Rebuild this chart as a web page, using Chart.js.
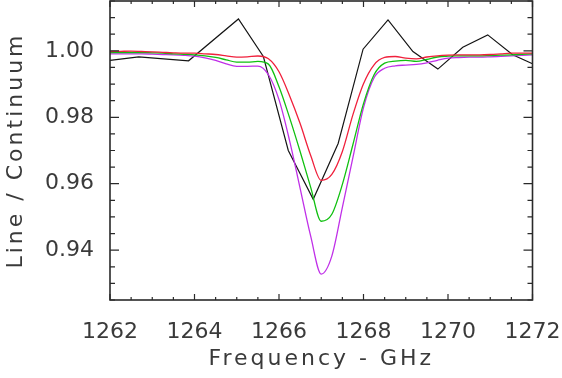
<!DOCTYPE html>
<html>
<head>
<meta charset="utf-8">
<script src="https://cdn.jsdelivr.net/npm/chart.js@4.4.0/dist/chart.umd.min.js"></script>
<style>
  html, body { margin: 0; padding: 0; background: #fff; }
</style>
</head>
<body>
<canvas id="chart" width="562" height="378"></canvas>
<script>
// --- DATA ---
// model grid (GHz)
const modelFreq = [1262.00, 1262.25, 1262.50, 1262.75, 1263.00, 1263.25, 1263.50, 1263.75,
  1264.00, 1264.25, 1264.50, 1264.75, 1265.00, 1265.25, 1265.50, 1265.75,
  1266.00, 1266.25, 1266.50, 1266.75, 1267.00, 1267.25, 1267.50, 1267.75,
  1268.00, 1268.25, 1268.50, 1268.75, 1269.00, 1269.25, 1269.50, 1269.75,
  1270.00, 1270.25, 1270.50, 1270.75, 1271.00, 1271.25, 1271.50, 1271.75, 1272.00];

const redModel = [0.9998, 0.99985, 0.9999, 0.9998, 0.9997, 0.99955, 0.9994, 0.9993,
  0.9993, 0.9991, 0.9989, 0.9985, 0.9981, 0.9982, 0.99844, 0.9976,
  0.9937, 0.9865, 0.9781, 0.9685, 0.9610, 0.9628, 0.9697, 0.9808,
  0.9901, 0.9958, 0.9980, 0.9983, 0.9978, 0.9976, 0.99814, 0.9985,
  0.9987, 0.9988, 0.9988, 0.9988, 0.9989, 0.9991, 0.9993, 0.9993, 0.9993];

const greenModel = [0.9995, 0.9995, 0.9995, 0.9995, 0.9994, 0.9993, 0.9991, 0.99895,
  0.9988, 0.9985, 0.9980, 0.9973, 0.9966, 0.9966, 0.9968, 0.9960,
  0.9892, 0.9799, 0.9697, 0.9589, 0.9487, 0.9508, 0.9598, 0.9718,
  0.9841, 0.9928, 0.9963, 0.9969, 0.9971, 0.9968, 0.9974, 0.99814,
  0.9984, 0.9985, 0.9985, 0.9985, 0.9986, 0.9987, 0.9988, 0.99895, 0.9991];

const magentaModel = [0.9991, 0.9991, 0.9991, 0.9991, 0.9990, 0.9989, 0.9988, 0.99865,
  0.9984, 0.9979, 0.99715, 0.9961, 0.99535, 0.99535, 0.9954, 0.9928,
  0.9853, 0.9730, 0.9586, 0.9442, 0.9328, 0.9382, 0.9529, 0.9679,
  0.9829, 0.9919, 0.99475, 0.9955, 0.9957, 0.9959, 0.9964, 0.99715,
  0.9978, 0.9980, 0.9981, 0.9981, 0.9982, 0.99835, 0.9985, 0.99865, 0.9988];

// observed spectrum (coarse channels)
const obsFreq = [1262.00, 1262.68, 1263.86, 1265.04, 1265.63, 1266.22, 1266.81, 1267.40,
  1267.99, 1268.58, 1269.17, 1269.76, 1270.35, 1270.94, 1271.53, 1272.00];
const obsRatio = [0.9971, 0.9982, 0.9970, 1.0096, 0.9983, 0.9700, 0.9553, 0.9721,
  1.0005, 1.0093, 0.9998, 0.9945, 1.0011, 1.0048, 0.9988, 0.9961];

// axes
const xMajorTicks = [1262, 1264, 1266, 1268, 1270, 1272];
const yMajorTicks = [0.94, 0.96, 0.98, 1.00];
const xRange = [1262, 1272];
const yRange = [0.925, 1.015];

const xMinorStep = 0.5;
const yMinorStep = 0.005;

function pairs(xs, ys) {
  return xs.map((v, i) => ({ x: v, y: ys[i] }));
}
function isMajor(v, list) {
  return list.some(m => Math.abs(m - v) < 1e-6);
}
function stepTicks(min, max, step) {
  const out = [];
  const n = Math.round((max - min) / step);
  for (let i = 0; i <= n; i++) out.push(Math.round((min + i * step) * 10000) / 10000);
  return out;
}

// titles drawn with a wide letter spacing like the original vector font
const baseDrawTitle = Chart.Scale.prototype.drawTitle;
Chart.Scale.prototype.drawTitle = function () {
  this.ctx.save();
  this.ctx.letterSpacing = '3px';
  baseDrawTitle.call(this);
  this.ctx.restore();
};

// --- FRAME + INWARD TICKS ---
const frameTicks = {
  id: 'frameTicks',
  afterDatasetsDraw(chart) {
    const { ctx, chartArea: a, scales: { x, y } } = chart;
    ctx.save();
    ctx.strokeStyle = '#2a2a2a';
    ctx.lineWidth = 1.2;
    ctx.beginPath();
    x.ticks.forEach(t => {
      const px = x.getPixelForValue(t.value);
      const len = isMajor(t.value, xMajorTicks) ? 6 : 3;
      ctx.moveTo(px, a.bottom); ctx.lineTo(px, a.bottom - len);
      ctx.moveTo(px, a.top); ctx.lineTo(px, a.top + len);
    });
    y.ticks.forEach(t => {
      const py = y.getPixelForValue(t.value);
      const len = isMajor(t.value, yMajorTicks) ? 9 : 5;
      ctx.moveTo(a.left, py); ctx.lineTo(a.left + len, py);
      ctx.moveTo(a.right, py); ctx.lineTo(a.right - len, py);
    });
    ctx.stroke();
    ctx.lineWidth = 1.6;
    ctx.strokeRect(a.left, a.top, a.right - a.left, a.bottom - a.top);
    ctx.restore();
  }
};

Chart.defaults.font.family = "'DejaVu Sans', sans-serif";
Chart.defaults.color = '#3a3a3a';

new Chart(document.getElementById('chart').getContext('2d'), {
  type: 'line',
  data: {
    datasets: [
      { label: 'red', data: pairs(modelFreq, redModel), borderColor: '#f0203c', borderWidth: 1.3,
        pointRadius: 0, cubicInterpolationMode: 'monotone', order: 1 },
      { label: 'green', data: pairs(modelFreq, greenModel), borderColor: '#10c010', borderWidth: 1.3,
        pointRadius: 0, cubicInterpolationMode: 'monotone', order: 2 },
      { label: 'magenta', data: pairs(modelFreq, magentaModel), borderColor: '#c030e8', borderWidth: 1.3,
        pointRadius: 0, cubicInterpolationMode: 'monotone', order: 3 },
      { label: 'observed', data: pairs(obsFreq, obsRatio), borderColor: '#151515', borderWidth: 1.2,
        pointRadius: 0, tension: 0, order: 4 }
    ]
  },
  options: {
    responsive: false,
    animation: false,
    events: [],
    layout: { padding: { top: 1, right: 29.5, left: 0, bottom: 0 } },
    plugins: { legend: { display: false }, tooltip: { enabled: false } },
    scales: {
      x: {
        type: 'linear',
        min: xRange[0], max: xRange[1],
        grid: { display: false },
        border: { display: false },
        afterBuildTicks: s => { s.ticks = stepTicks(xRange[0], xRange[1], xMinorStep).map(v => ({ value: v })); },
        afterFit: s => { s.height = 78; s.paddingLeft = 0; s.paddingRight = 0; },
        ticks: {
          autoSkip: false, maxRotation: 0, padding: 11,
          font: { size: 22 },
          callback: v => isMajor(v, xMajorTicks) ? String(Math.round(v)) : ''
        },
        title: { display: true, text: 'Frequency - GHz', font: { size: 22 }, padding: { bottom: 6 } }
      },
      y: {
        type: 'linear',
        min: yRange[0], max: yRange[1],
        grid: { display: false },
        border: { display: false },
        afterBuildTicks: s => { s.ticks = stepTicks(yRange[0], yRange[1], yMinorStep).map(v => ({ value: v })); },
        afterFit: s => { s.width = 110; s.paddingTop = 0; s.paddingBottom = 0; },
        ticks: {
          autoSkip: false, padding: 8,
          font: { size: 22 },
          callback: v => isMajor(v, yMajorTicks) ? v.toFixed(2) : ''
        },
        title: { display: true, text: 'Line / Continuum', font: { size: 22 }, padding: { top: 3 } }
      }
    }
  },
  plugins: [frameTicks]
});
</script>
</body>
</html>
